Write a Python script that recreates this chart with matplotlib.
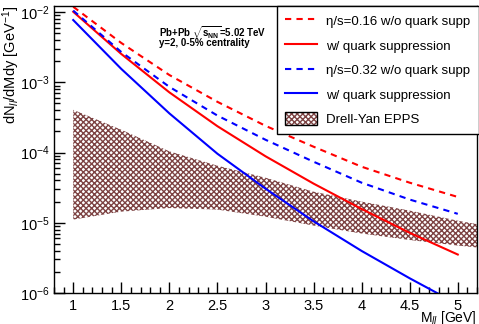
import numpy as np
import matplotlib
matplotlib.use("Agg")
import matplotlib.pyplot as plt
from matplotlib.patches import Patch
from matplotlib.legend_handler import HandlerTuple
from matplotlib.ticker import MultipleLocator, LogLocator, NullFormatter, FormatStrFormatter

# Datos
masa = [1.0, 1.5, 2.0, 2.5, 3.0, 3.5, 4.0, 4.5, 5.0]
eta016_sin = [1.19e-2, 3.63e-3, 1.27e-3, 5.27e-4, 2.40e-4, 1.21e-4, 6.28e-5, 3.72e-5, 2.33e-5]
eta016_con = [1.01e-2, 2.53e-3, 7.19e-4, 2.37e-4, 8.85e-5, 3.61e-5, 1.57e-5, 7.19e-6, 3.53e-6]
eta032_sin = [1.05e-2, 2.70e-3, 8.61e-4, 3.36e-4, 1.52e-4, 7.40e-5, 3.72e-5, 2.14e-5, 1.34e-5]
eta032_con = [7.70e-3, 1.55e-3, 3.61e-4, 9.61e-5, 3.06e-5, 1.05e-5, 3.97e-6, 1.62e-6, 6.93e-7]

masa_dy = [1.0, 1.5, 2.0, 2.5, 3.0, 3.5, 4.0, 4.5, 5.0, 5.25]
dy_alto = [4.06e-4, 2.11e-4, 1.04e-4, 6.49e-5, 4.38e-5, 2.77e-5, 2.00e-5, 1.49e-5, 1.07e-5, 9.3e-6]
dy_bajo = [1.11e-5, 1.44e-5, 1.62e-5, 1.54e-5, 1.22e-5, 9.12e-6, 7.03e-6, 5.68e-6, 4.74e-6, 4.38e-6]

etiquetas = ["\u03b7/s=0.16 w/o quark supp", "w/ quark suppression",
             "\u03b7/s=0.32 w/o quark supp", "w/ quark suppression",
             "Drell-Yan EPPS"]

color_dy = '#7d4343'

plt.rcParams['font.family'] = ['Liberation Sans', 'DejaVu Sans']
plt.rcParams['mathtext.fontset'] = 'custom'
plt.rcParams['mathtext.rm'] = 'Liberation Sans'
plt.rcParams['mathtext.it'] = 'Liberation Sans:italic'
plt.rcParams['mathtext.bf'] = 'Liberation Sans:bold'
plt.rcParams['hatch.linewidth'] = 1.0

fig = plt.figure(figsize=(4.79, 3.24), dpi=100)
ax = fig.add_axes([54/479, 1 - 293/324, (477 - 54)/479, (293 - 6)/324])

# Banda Drell-Yan
ax.fill_between(masa_dy, dy_bajo, dy_alto, facecolor='white',
                edgecolor=color_dy, hatch='xxxxxx', linewidth=0)

l1, = ax.plot(masa, eta016_sin, color='red', lw=1.5, dashes=(3, 2.5))
l2, = ax.plot(masa, eta016_con, color='red', lw=1.5)
l3, = ax.plot(masa, eta032_sin, color='blue', lw=1.5, dashes=(3, 2.5))
l4, = ax.plot(masa, eta032_con, color='blue', lw=1.5)

ax.set_yscale('log')
ax.set_xlim(0.8, 5.2)
ax.set_ylim(1e-6, 1.22e-2)

ax.xaxis.set_major_locator(MultipleLocator(0.5))
ax.xaxis.set_minor_locator(MultipleLocator(0.1))
ax.xaxis.set_major_formatter(FormatStrFormatter('%g'))
ax.yaxis.set_major_locator(LogLocator(base=10, numticks=10))
ax.yaxis.set_minor_locator(LogLocator(base=10, subs=np.arange(2, 10), numticks=20))
ax.yaxis.set_minor_formatter(NullFormatter())
ax.tick_params(which='major', direction='in', length=8, width=1, labelsize=10.5)
ax.tick_params(which='minor', direction='in', length=4, width=1)
ax.tick_params(axis='x', pad=4)
ax.tick_params(axis='y', pad=3)
for s in ax.spines.values():
    s.set_linewidth(1)

ax.set_xlabel("M$_{ll}$ [GeV]", fontsize=10, loc='right')
ax.xaxis.set_label_coords(1.0, -25/287)
ax.xaxis.label.set_va('center')
ax.set_ylabel("dN$_{ll}$/dMdy [GeV$^{-1}$]", fontsize=10.5, loc='top')
ax.yaxis.set_label_coords(-32/423, 1.0)

fig.text(159/479, 1 - 33/324, r"Pb+Pb $\mathbf{\sqrt{s_{NN}}}$=5.02 TeV", fontsize=7,
         fontweight='bold', va='center', ha='left')
fig.text(159/479, 1 - 43/324, "y=2, 0-5% centrality", fontsize=7,
         fontweight='bold', va='center', ha='left')

# Cuadro de la banda en la leyenda: trama + borde negro
trama = Patch(facecolor='white', edgecolor=color_dy, hatch='xxxxxx', linewidth=0)
borde = Patch(facecolor='none', edgecolor='black', linewidth=1)

ley = ax.legend([l1, l2, l3, l4, (trama, borde)], etiquetas, loc='upper left',
                bbox_to_anchor=(277/479, 1 - 6/324, (479 - 277)/479, 0.0),
                bbox_transform=fig.transFigure, mode='expand', borderaxespad=0,
                fancybox=False, framealpha=1, edgecolor='black', fontsize=9.5,
                handlelength=2.4, handletextpad=0.7, labelspacing=0.8,
                borderpad=0.6, handleheight=1.15,
                handler_map={tuple: HandlerTuple(ndivide=1)})
ley.get_frame().set_linewidth(1)

fig.savefig("out.png", dpi=100)
